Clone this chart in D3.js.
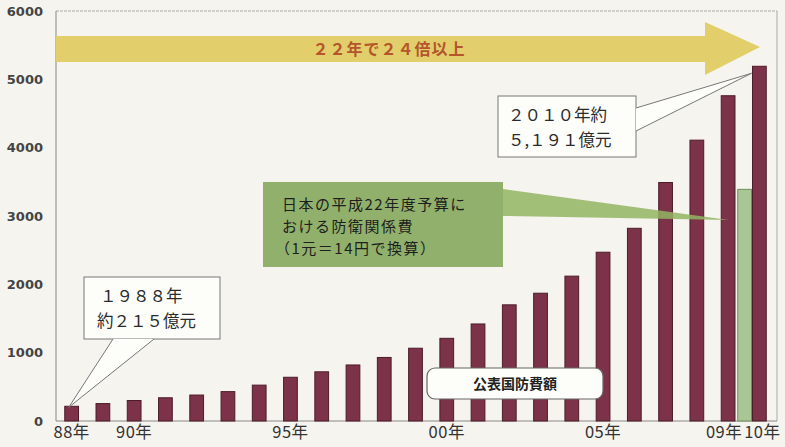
<!DOCTYPE html>
<html>
<head>
<meta charset="utf-8">
<script src="https://cdn.jsdelivr.net/npm/d3@7"></script>
<style>
  body { margin: 0; background: #f6f4ee; }
  svg { display: block; }
</style>
</head>
<body>
<div id="chart-area"></div>
<script>
// 公表国防費額 (億元), 1988-2010
const years = ["88","89","90","91","92","93","94","95","96","97","98","99",
               "00","01","02","03","04","05","06","07","08","09","10"]
const budget = [215, 255, 300, 340, 380, 430, 525, 640, 720, 820, 930, 1065,
                1210, 1420, 1700, 1870, 2120, 2470, 2820, 3490, 4110, 4760, 5191]
const japanBudget = 3390   // 日本 平成22年度 防衛関係費 (1元=14円)
const yTicks = [0, 1000, 2000, 3000, 4000, 5000, 6000]
const xLabels = { "88": "88年", "90": "90年", "95": "95年", "00": "00年", "05": "05年", "09": "09年", "10": "10年" }

const svgWidth = 785
const svgHeight = 447
const plot = { left: 56, right: 777, top: 11, bottom: 421 }

const svg = d3.select("#chart-area")
    .append("svg")
    .attr("width", svgWidth)
    .attr("height", svgHeight)

svg.append("rect")
    .attr("width", svgWidth).attr("height", svgHeight)
    .attr("fill", "#f6f4ee")

const x = d3.scaleBand()
    .domain(years)
    .range([plot.left, plot.right - 2])
    .paddingInner(0.56)
    .paddingOuter(0.28)

const y = d3.scaleLinear()
    .domain([0, 6000])
    .range([plot.bottom, plot.top])

// frame
svg.append("line")
    .attr("x1", plot.left).attr("x2", plot.right)
    .attr("y1", plot.top).attr("y2", plot.top)
    .attr("stroke", "#aaa").attr("stroke-dasharray", "3,1")
svg.append("line")
    .attr("x1", plot.right).attr("x2", plot.right)
    .attr("y1", plot.top).attr("y2", plot.bottom)
    .attr("stroke", "#aaa")
svg.append("line")
    .attr("x1", plot.left).attr("x2", plot.left)
    .attr("y1", plot.top).attr("y2", plot.bottom)
    .attr("stroke", "#888")
svg.append("line")
    .attr("x1", plot.left).attr("x2", plot.right)
    .attr("y1", plot.bottom).attr("y2", plot.bottom)
    .attr("stroke", "#888")

// y axis labels
const yAxis = svg.append("g")
    .attr("transform", `translate(${plot.left},0)`)
    .call(d3.axisLeft(y).tickValues(yTicks).tickFormat(d3.format("d")).tickSize(0).tickPadding(13))
yAxis.select(".domain").remove()
yAxis.selectAll("text")
    .attr("fill", "#444")
    .style("font-family", "'DejaVu Sans', sans-serif")
    .style("font-weight", "bold")
    .style("font-size", "13px")

// x axis labels
const xAxis = svg.append("g")
    .attr("transform", `translate(0,${plot.bottom})`)
    .call(d3.axisBottom(x)
        .tickValues(Object.keys(xLabels))
        .tickFormat(d => xLabels[d])
        .tickSize(0).tickPadding(5))
xAxis.select(".domain").remove()
xAxis.selectAll("text")
    .attr("fill", "#333")
    .style("font-family", "'Noto Sans CJK JP', sans-serif")
    .style("font-size", "16.5px")
    .style("letter-spacing", "0.5px")
xAxis.selectAll(".tick").filter(d => d === "09").select("text").attr("dx", -4)
xAxis.selectAll(".tick").filter(d => d === "10").select("text").attr("dx", 3)

// big arrow
const arrowY = 49
const arrow = d3.path()
arrow.moveTo(plot.left, arrowY - 13)
arrow.lineTo(705, arrowY - 13)
arrow.lineTo(705, arrowY - 27)
arrow.lineTo(760, arrowY - 2)
arrow.lineTo(705, arrowY + 26)
arrow.lineTo(705, arrowY + 13)
arrow.lineTo(plot.left, arrowY + 13)
arrow.closePath()
svg.append("path")
    .attr("d", arrow.toString())
    .attr("fill", "#e2cf6c")
svg.append("text")
    .attr("x", 389).attr("y", arrowY + 6)
    .attr("text-anchor", "middle")
    .attr("fill", "#b4552c")
    .style("font-family", "'Noto Sans CJK JP', sans-serif")
    .style("font-weight", "bold")
    .style("font-size", "16px")
    .style("letter-spacing", "1px")
    .text("２２年で２４倍以上")

// bars
svg.append("g").selectAll("rect")
    .data(years)
    .join("rect")
    .attr("x", d => x(d))
    .attr("y", (d, i) => y(budget[i]))
    .attr("width", x.bandwidth())
    .attr("height", (d, i) => y(0) - y(budget[i]))
    .attr("fill", "#7c3248")
    .attr("stroke", "#4d1c2b")
    .attr("stroke-width", 1)

// Japan bar, beside 2010
svg.append("rect")
    .attr("x", x("10") - x.bandwidth() - 1)
    .attr("y", y(japanBudget))
    .attr("width", x.bandwidth())
    .attr("height", y(0) - y(japanBudget))
    .attr("fill", "#a9c795")
    .attr("stroke", "#6e8f5c")

// green callout
const gx = 263, gy = 182, gw = 240, gh = 85
const wedge = d3.path()
wedge.moveTo(gx + gw, 189)
wedge.lineTo(x("10") - x.bandwidth() - 10, 220)
wedge.lineTo(gx + gw, 216)
wedge.closePath()
svg.append("path").attr("d", wedge.toString())
    .attr("fill", "#93b563").attr("opacity", 0.85)
svg.append("rect")
    .attr("x", gx).attr("y", gy).attr("width", gw).attr("height", gh)
    .attr("fill", "#90b06b")
const gText = svg.append("text")
    .attr("fill", "#1e1e1e")
    .style("font-family", "'Noto Sans CJK JP', sans-serif")
    .style("font-size", "15px")
    .style("letter-spacing", "1.5px")
gText.append("tspan").attr("x", gx + 19).attr("y", gy + 28).text("日本の平成22年度予算に")
gText.append("tspan").attr("x", gx + 19).attr("y", gy + 50).text("おける防衛関係費")
gText.append("tspan").attr("x", gx + 12).attr("y", gy + 72).text("（1元＝14円で換算）")

// white callouts
function callout(box, tip, baseA, baseB, lines) {
    svg.append("rect")
        .attr("x", box.x).attr("y", box.y).attr("width", box.w).attr("height", box.h)
        .attr("fill", "#fdfdfa").attr("stroke", "#777").attr("stroke-width", 1)
    const pf = d3.path()
    pf.moveTo(baseA[0], baseA[1]); pf.lineTo(tip[0], tip[1]); pf.lineTo(baseB[0], baseB[1]); pf.closePath()
    svg.append("path").attr("d", pf.toString()).attr("fill", "#fdfdfa")
    const p = d3.path()
    p.moveTo(baseA[0], baseA[1]); p.lineTo(tip[0], tip[1]); p.lineTo(baseB[0], baseB[1])
    svg.append("path").attr("d", p.toString())
        .attr("fill", "none").attr("stroke", "#777").attr("stroke-width", 1)
    const t = svg.append("text")
        .attr("fill", "#2a2a2a")
        .style("font-family", "'Noto Sans CJK JP', sans-serif")
        .style("font-size", "16.5px")
    lines.forEach(l => t.append("tspan").attr("x", l.x).attr("y", l.y).text(l.text))
}

callout({ x: 84, y: 277, w: 136, h: 62 },
    [x("88") + 4, y(budget[0]) + 1], [113, 339], [154, 339],
    [{ x: 100, y: 302, text: "１９８８年" }, { x: 97, y: 327, text: "約２１５億元" }])

callout({ x: 498, y: 96, w: 138, h: 61 },
    [x("10") - 1, y(budget[22]) + 7], [636, 108], [636, 131],
    [{ x: 508, y: 121, text: "２０１０年約" }, { x: 508, y: 146, text: "５,１９１億元" }])

// legend label
svg.append("rect")
    .attr("x", 427).attr("y", 368).attr("width", 176).attr("height", 31).attr("rx", 8)
    .attr("fill", "#fdfdfa").attr("stroke", "#666").attr("stroke-width", 1.2)
svg.append("text")
    .attr("x", 515).attr("y", 389)
    .attr("text-anchor", "middle")
    .attr("fill", "#222")
    .style("font-family", "'Noto Sans CJK JP', sans-serif")
    .style("font-weight", "bold")
    .style("font-size", "14px")
    .text("公表国防費額")
</script>
</body>
</html>
